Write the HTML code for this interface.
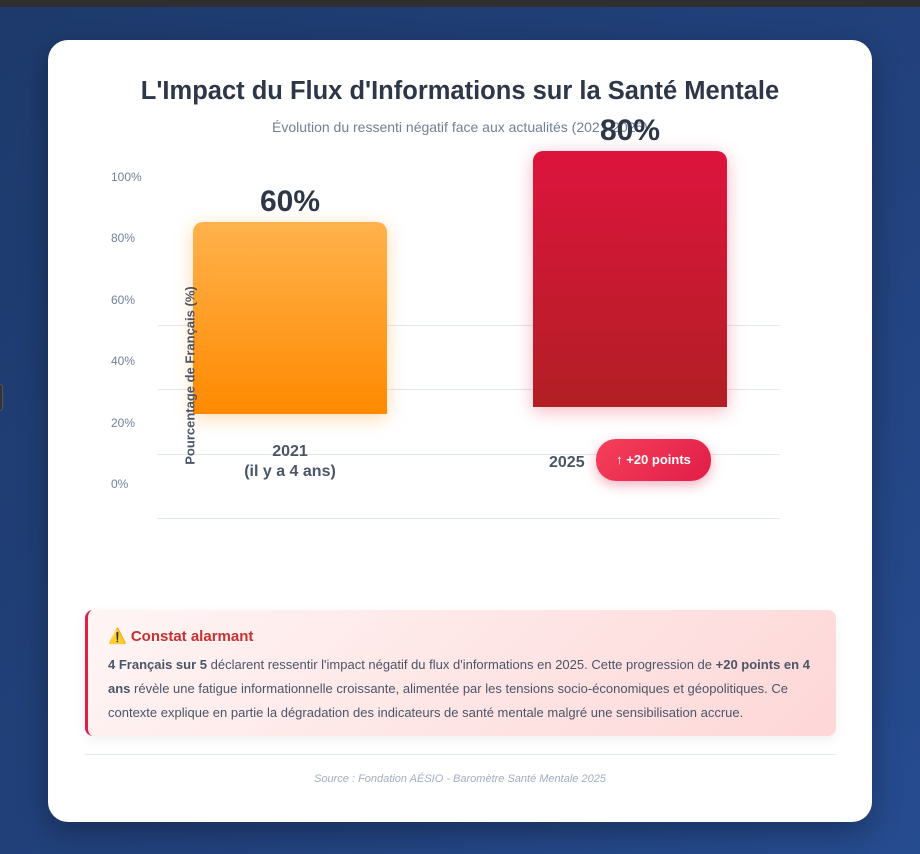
<!DOCTYPE html>
<html><head><meta charset="utf-8"><style>
*{margin:0;padding:0;box-sizing:border-box}
body{width:920px;height:854px;overflow:hidden;position:relative;font-family:"Liberation Sans","DejaVu Sans",sans-serif;background:linear-gradient(135deg,#1e3a6c 0%,#22427e 60%,#264c90 100%)}
.top{position:absolute;left:0;top:0;width:920px;height:7px;background:#2e2e2e}
.nub{position:absolute;left:-4px;top:384px;width:7px;height:27px;border-radius:3px;background:#333;border:1px solid #555}
.card{position:absolute;left:48px;top:40px;width:824px;height:782px;background:#fff;border-radius:20px;box-shadow:0 10px 30px rgba(0,0,0,.3)}
.a{position:absolute}
.t{left:0;width:920px;text-align:center}
.yl{left:111px;font-size:12px;color:#718096}
.g{left:158px;width:622px;height:1px;background:#e2e8f0}
.lbl{font-weight:bold;color:#4a5568;font-size:16px;text-align:center}
</style></head><body>
<div class="top"></div><div class="nub"></div>
<div class="card"></div>
<div class="a t" style="top:77px;font-size:25.5px;font-weight:bold;color:#2d3748">L'Impact du Flux d'Informations sur la Santé Mentale</div>
<div class="a t" style="top:119px;font-size:14px;color:#718096">Évolution du ressenti négatif face aux actualités (2021-2025)</div>

<div class="a yl" style="top:170px">100%</div>
<div class="a yl" style="top:231px">80%</div>
<div class="a yl" style="top:293px">60%</div>
<div class="a yl" style="top:354px">40%</div>
<div class="a yl" style="top:416px">20%</div>
<div class="a yl" style="top:477px">0%</div>
<div class="a g" style="top:325px"></div>
<div class="a g" style="top:389px"></div>
<div class="a g" style="top:454px"></div>
<div class="a g" style="top:518px"></div>

<div class="a" style="left:193px;top:222px;width:194px;height:192px;border-radius:10px 10px 0 0;background:linear-gradient(180deg,#ffb24c,#ff8a00);box-shadow:0 4px 18px rgba(255,150,30,.35)"></div>
<div class="a" style="left:533px;top:151px;width:194px;height:256px;border-radius:10px 10px 0 0;background:linear-gradient(180deg,#dd143d,#b21f24);box-shadow:0 4px 18px rgba(220,20,60,.3)"></div>

<div class="a" style="left:190px;top:185px;width:200px;text-align:center;font-size:30px;font-weight:bold;color:#2d3748">60%</div>
<div class="a" style="left:530px;top:114px;width:200px;text-align:center;font-size:30px;font-weight:bold;color:#2d3748">80%</div>

<div class="a" style="left:90px;top:368px;width:200px;text-align:center;font-size:13px;font-weight:bold;color:#4a5568;transform:rotate(-90deg)">Pourcentage de Français (%)</div>

<div class="a lbl" style="left:190px;top:442px;width:200px;line-height:20px">2021<br>(il y a 4 ans)</div>
<div class="a lbl" style="left:549px;top:454px">2025</div>
<div class="a" style="left:596px;top:439px;width:115px;height:42px;border-radius:20px;background:linear-gradient(135deg,#f5405a,#e11d48);color:#fff;font-size:13px;font-weight:bold;line-height:42px;text-align:center;box-shadow:0 4px 12px rgba(225,29,72,.35)">↑ +20 points</div>

<div class="a" style="left:85px;top:610px;width:751px;height:126px;border-radius:8px;border-left:3px solid #e11d48;background:linear-gradient(135deg,#fff5f5,#fed7d7);box-shadow:0 4px 12px rgba(0,0,0,.06);padding:18px 10px 0 20px">
<div style="font-size:15px;font-weight:bold;color:#c53030;line-height:18px">⚠️ Constat alarmant</div>
<div style="font-size:13px;color:#4a5568;line-height:24px;margin-top:7px;white-space:nowrap"><b>4 Français sur 5</b> déclarent ressentir l'impact négatif du flux d'informations en 2025. Cette progression de <b>+20 points en 4</b><br><b>ans</b> révèle une fatigue informationnelle croissante, alimentée par les tensions socio-économiques et géopolitiques. Ce<br>contexte explique en partie la dégradation des indicateurs de santé mentale malgré une sensibilisation accrue.</div>
</div>
<div class="a" style="left:85px;top:754px;width:751px;height:1px;background:#e2e8f0"></div>
<div class="a t" style="top:773px;font-size:11px;font-style:italic;color:#a0aec0">Source : Fondation AÉSIO - Baromètre Santé Mentale 2025</div>
</body></html>
